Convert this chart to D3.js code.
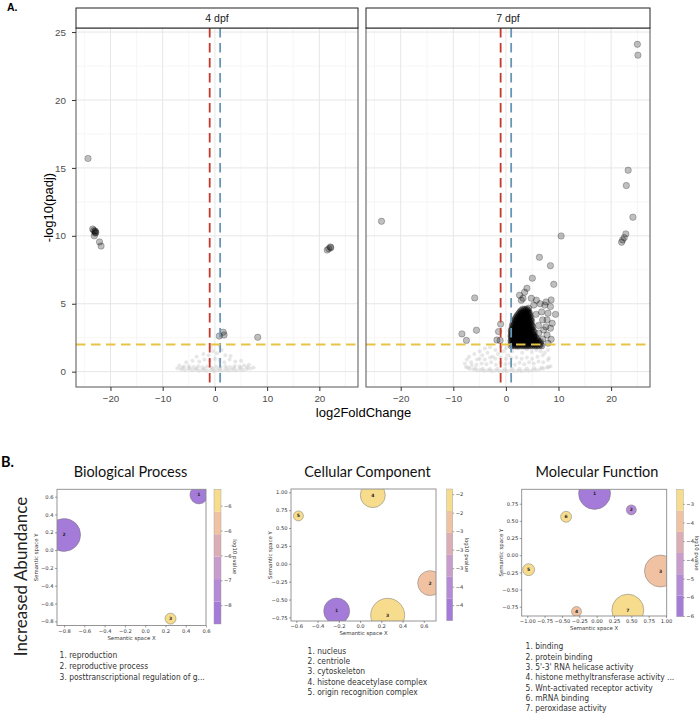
<!DOCTYPE html>
<html>
<head>
<meta charset="utf-8">
<script src="https://cdn.jsdelivr.net/npm/d3@7"></script>
<style>
  body { margin: 0; background: #fff; }
  svg { display: block; }
</style>
</head>
<body>
<svg id="fig" width="700" height="714"></svg>
<script>
// ---------------- data: A. volcano plots ----------------
const panels = ["4 dpf", "7 dpf"];
const xTicks = [-20, -10, 0, 10, 20];
const xMinor = [-25, -15, -5, 5, 15, 25];
const yTicks = [0, 5, 10, 15, 20, 25];
const yMinor = [2.5, 7.5, 12.5, 17.5, 22.5];
const lfcCut = [-1, 1];
const padjCut = 2;

// significant genes, 4 dpf  [log2FoldChange, -log10(padj)]
const sig4 = [
  [-24.3, 15.7],
  [-23.4, 10.5], [-23.2, 10.4], [-22.9, 10.35], [-22.8, 10.25], [-23.0, 10.3], [-22.9, 10.2],
  [-23.1, 10.0], [-22.1, 9.55], [-21.8, 9.25],
  [21.5, 8.95], [21.8, 9.05], [22.1, 9.18], [22.2, 9.12],
  [0.85, 2.62], [1.6, 2.9], [1.75, 2.7], [8.2, 2.53]
];

// non-significant genes, 4 dpf
const cloud4 = [
  [-7.2, 0.25], [-6.5, 0.18], [-5.8, 0.12], [-5.1, 0.2], [-4.4, 0.1], [-3.7, 0.15], [-3.0, 0.08],
  [-2.3, 0.12], [-1.6, 0.06], [-0.9, 0.1], [-0.2, 0.05], [0.5, 0.1], [1.2, 0.07], [1.9, 0.12],
  [2.6, 0.09], [3.3, 0.14], [4.0, 0.1], [4.7, 0.16], [5.4, 0.12], [6.1, 0.2], [6.8, 0.24], [7.4, 0.3],
  [-6.8, 0.45], [-5.9, 0.38], [-5.0, 0.42], [-4.1, 0.35], [-3.2, 0.4], [-2.4, 0.33], [-1.5, 0.38],
  [-0.6, 0.3], [0.3, 0.36], [1.1, 0.32], [2.0, 0.4], [2.9, 0.35], [3.8, 0.42], [4.7, 0.38],
  [5.6, 0.45], [6.5, 0.5],
  [-6.2, 0.28], [-4.8, 0.26], [-3.5, 0.24], [-2.0, 0.22], [-0.4, 0.2], [0.9, 0.22], [2.3, 0.25],
  [3.6, 0.27], [5.0, 0.3], [6.2, 0.34],
  [-5.5, 0.7], [-4.3, 0.8], [-3.0, 0.75], [-2.0, 0.9], [-1.0, 0.8], [0.0, 0.95], [0.9, 0.85],
  [1.8, 0.7], [2.8, 0.9], [3.9, 0.75], [5.0, 0.8],
  [-3.5, 1.1], [-2.2, 1.3], [-1.2, 1.2], [-0.4, 1.5], [0.4, 1.35], [1.3, 1.6], [2.0, 1.2],
  [3.0, 1.15], [-0.8, 1.8], [0.9, 1.9]
];

// significant genes, 7 dpf (scattered ones)
const sig7 = [
  [25.0, 24.1], [25.1, 23.3], [23.25, 14.83], [22.9, 13.7], [-23.65, 11.07], [24.15, 11.37],
  [22.8, 10.14], [22.5, 9.87], [22.2, 9.7], [22.0, 9.53], [10.5, 9.99],
  [6.37, 8.42], [8.47, 7.8], [5.03, 6.88], [9.1, 6.43], [4.0, 6.14], [3.56, 5.85], [2.6, 5.63],
  [3.25, 5.4], [4.84, 5.4], [5.8, 5.26], [2.93, 5.26], [7.65, 5.13], [8.6, 5.28], [8.47, 4.79],
  [9.43, 4.22], [5.73, 4.22], [6.99, 3.81], [7.83, 3.81], [8.8, 3.56], [8.47, 3.2], [7.19, 3.07],
  [6.23, 2.83], [7.83, 2.7], [8.6, 2.38], [6.56, 2.21], [5.28, 2.58], [4.32, 4.67],
  [6.8, 4.4], [7.4, 4.9], [8.0, 4.3], [6.2, 3.4], [7.0, 2.4], [8.0, 2.1], [7.6, 3.3], [6.5, 5.0], [5.3, 4.9],
  [-5.93, 5.43], [-8.36, 2.78], [-7.5, 2.3], [-5.6, 3.05],
  [-1.0, 3.5], [-1.4, 2.95], [-1.7, 2.33], [-1.1, 2.3]
];

// the dense group of up-regulated genes at 7 dpf, read row by row: [-log10(padj), log2FoldChange values]
const blob7Rows = [
  [1.9, [1.0, 1.4, 1.8, 2.2, 2.6, 3.0, 3.4, 3.8, 4.2, 4.6, 5.0, 5.5, 5.9, 6.3, 6.8]],
  [2.0, [1.2, 1.6, 2.0, 2.4, 2.8, 3.2, 3.6, 4.0, 4.4, 4.8, 5.3, 5.7, 6.1, 6.6]],
  [2.1, [1.1, 1.5, 1.9, 2.3, 2.7, 3.1, 3.5, 3.9, 4.3, 4.8, 5.2, 5.6, 6.0, 6.5]],
  [2.2, [1.0, 1.3, 1.7, 2.1, 2.5, 2.9, 3.3, 3.7, 4.1, 4.5, 5.0, 5.4, 5.8, 6.2]],
  [2.3, [1.0, 1.4, 1.8, 2.2, 2.6, 3.0, 3.4, 3.9, 4.3, 4.7, 5.1, 5.6, 6.1]],
  [2.4, [1.2, 1.6, 2.0, 2.4, 2.8, 3.2, 3.7, 4.1, 4.5, 4.9, 5.4, 5.8]],
  [2.5, [1.1, 1.5, 1.9, 2.3, 2.8, 3.2, 3.6, 4.0, 4.4, 4.9, 5.3, 5.8]],
  [2.6, [1.0, 1.3, 1.7, 2.1, 2.5, 3.0, 3.4, 3.8, 4.2, 4.7, 5.1, 5.5]],
  [2.7, [1.0, 1.4, 1.9, 2.3, 2.7, 3.1, 3.5, 4.0, 4.4, 4.8, 5.3]],
  [2.8, [1.2, 1.6, 2.1, 2.5, 2.9, 3.3, 3.8, 4.2, 4.6, 5.1]],
  [2.9, [1.1, 1.5, 1.9, 2.4, 2.8, 3.2, 3.7, 4.1, 4.5, 5.0, 5.4]],
  [3.0, [1.0, 1.3, 1.7, 2.2, 2.6, 3.0, 3.5, 3.9, 4.3, 4.8, 5.2]],
  [3.1, [1.1, 1.6, 2.0, 2.4, 2.9, 3.3, 3.7, 4.2, 4.6, 5.0]],
  [3.2, [1.3, 1.8, 2.2, 2.7, 3.1, 3.5, 4.0, 4.4, 4.8]],
  [3.3, [1.2, 1.6, 2.1, 2.5, 2.9, 3.4, 3.8, 4.2, 4.7, 5.1]],
  [3.4, [1.4, 1.9, 2.3, 2.7, 3.2, 3.6, 4.0, 4.5, 4.9]],
  [3.5, [1.3, 1.7, 2.2, 2.6, 3.0, 3.5, 3.9, 4.3, 4.8]],
  [3.6, [1.6, 2.0, 2.5, 2.9, 3.3, 3.8, 4.2, 4.6]],
  [3.7, [1.5, 1.9, 2.3, 2.8, 3.2, 3.6, 4.1, 4.5, 4.9]],
  [3.8, [1.7, 2.1, 2.5, 3.0, 3.4, 3.8, 4.3, 4.7]],
  [3.9, [1.8, 2.2, 2.6, 3.1, 3.5, 3.9, 4.3, 4.8]],
  [4.0, [2.0, 2.4, 2.8, 3.2, 3.7, 4.1, 4.5]],
  [4.1, [2.1, 2.5, 3.0, 3.4, 3.8, 4.2, 4.6]],
  [4.2, [2.3, 2.7, 3.1, 3.6, 4.0, 4.4]],
  [4.3, [2.5, 2.9, 3.3, 3.8, 4.2, 4.5]],
  [4.4, [2.7, 3.1, 3.6, 4.0, 4.3]],
  [4.5, [2.9, 3.4, 3.8, 4.2]],
  [4.6, [3.2, 3.6, 4.0]]
];

// non-significant genes, 7 dpf
const cloud7 = [
  [-7.6, 0.35], [-6.9, 0.22], [-6.2, 0.15], [-5.5, 0.1], [-4.8, 0.12], [-4.1, 0.06], [-3.4, 0.1],
  [-2.7, 0.05], [-2.0, 0.08], [-1.3, 0.04], [-0.6, 0.07], [0.1, 0.05], [0.8, 0.08], [1.5, 0.04],
  [2.2, 0.07], [2.9, 0.05], [3.6, 0.09], [4.3, 0.06], [5.0, 0.1], [5.7, 0.12], [6.4, 0.16],
  [7.1, 0.22], [7.8, 0.3], [8.5, 0.4],
  [-7.2, 0.3], [-5.8, 0.25], [-4.4, 0.22], [-3.0, 0.2], [-1.6, 0.22], [-0.2, 0.2], [1.2, 0.22],
  [2.6, 0.2], [4.0, 0.24], [5.4, 0.26], [6.8, 0.3], [8.1, 0.35],
  [-7.8, 0.6], [-7.4, 0.9], [-7.0, 1.1], [-6.6, 0.7], [-6.0, 1.3], [-5.5, 0.9], [-5.0, 1.5],
  [-4.5, 1.2], [-4.0, 1.7], [-3.5, 1.4], [-3.0, 1.8], [-2.5, 1.1], [-2.0, 1.6], [-1.5, 1.3],
  [-1.0, 1.85], [-0.5, 1.5], [0.0, 1.75], [0.5, 1.2],
  [-6.5, 0.45], [-5.6, 0.5], [-4.6, 0.6], [-3.7, 0.55], [-2.8, 0.7], [-1.9, 0.5], [-1.0, 0.65],
  [-0.1, 0.55], [0.8, 0.6], [1.7, 0.5], [2.6, 0.65], [3.5, 0.55], [4.4, 0.7], [5.3, 0.6],
  [6.2, 0.75], [7.1, 0.7], [8.0, 0.85],
  [-5.0, 0.95], [-4.0, 0.9], [-3.0, 1.05], [-2.0, 0.95], [-1.0, 1.05], [0.0, 0.95], [1.0, 1.0],
  [2.0, 1.05], [3.0, 0.95], [4.0, 1.05], [5.0, 0.95], [6.0, 1.1], [7.0, 1.2], [8.2, 1.0],
  [1.2, 1.5], [2.2, 1.7], [3.1, 1.4], [4.0, 1.65], [4.9, 1.45], [5.8, 1.6], [6.6, 1.5], [7.4, 1.4],
  [8.0, 1.6], [1.7, 1.85], [3.6, 1.8], [5.3, 1.85], [6.9, 1.8]
];

// ---------------- data: B. GO term bubble charts ----------------
const bpTerms = ["reproduction", "reproductive process", "posttranscriptional regulation of g..."];
const bpX = [0.53, -0.80, 0.25];
const bpY = [0.62, 0.17, -0.77];
const bpSize = [81, 272, 30];
const bpLogP = [-7.85, -7.8, -5.3];
const bpXTicks = [-0.8, -0.6, -0.4, -0.2, 0.0, 0.2, 0.4, 0.6];
const bpYTicks = [-0.8, -0.6, -0.4, -0.2, 0.0, 0.2, 0.4, 0.6];
const bpCbTicks = [-5.5, -6.0, -6.5, -7.0, -7.5];

const ccTerms = ["nucleus", "centriole", "cytoskeleton", "histone deacetylase complex", "origin recognition complex"];
const ccX = [-0.22, 0.66, 0.26, 0.12, -0.58];
const ccY = [-0.66, -0.27, -0.72, 0.96, 0.67];
const ccSize = [169, 156, 289, 156, 25];
const ccLogP = [-3.9, -2.6, -2.25, -2.2, -2.3];
const ccXTicks = [-0.6, -0.4, -0.2, 0.0, 0.2, 0.4, 0.6];
const ccYTicks = [-0.75, -0.5, -0.25, 0.0, 0.25, 0.5, 0.75, 1.0];
const ccCbTicks = [-2.25, -2.5, -2.75, -3.0, -3.25, -3.5, -3.75];

const mfTerms = ["binding", "protein binding", "5'-3' RNA helicase activity", "histone methyltransferase activity ...",
  "Wnt-activated receptor activity", "mRNA binding", "peroxidase activity"];
const mfX = [-0.03, 0.50, 0.92, -0.29, -0.98, -0.44, 0.45];
const mfY = [0.90, 0.66, -0.23, -0.82, -0.21, 0.56, -0.80];
const mfSize = [256, 25, 256, 25, 36, 30, 256];
const mfLogP = [-6.0, -5.2, -3.5, -3.4, -2.7, -2.75, -2.8];
const mfXTicks = [-1.0, -0.75, -0.5, -0.25, 0.0, 0.25, 0.5, 0.75, 1.0];
const mfYTicks = [-0.75, -0.5, -0.25, 0.0, 0.25, 0.5, 0.75];
const mfCbTicks = [-3.0, -3.5, -4.0, -4.5, -5.0, -5.5, -6.0];

const bandColors = ["#a47bd8", "#b58ad6", "#c99cce", "#ddadb6", "#f0c2a2", "#f6dc8c"];

// ---------------- drawing ----------------
const svg = d3.select("#fig");
const helv = "'Liberation Sans', Arial, sans-serif";
const small = "'DejaVu Sans', sans-serif";
const narrow = "'Liberation Sans Narrow', 'DejaVu Sans Condensed', sans-serif";

// colour bar labels are printed like python's "%.0f" (round half to even)
const halfEven = v => {
  const r = Math.round(v);
  return (Math.abs(v % 1) === 0.5 && r % 2 !== 0) ? r - 1 : r;
};
const cbFormat = v => d3.format("d")(halfEven(v));

svg.append("text").attr("x", 7).attr("y", 10.7).text("A.")
  .attr("font-family", helv).attr("font-weight", "bold").attr("font-size", 10.5);

const blob7 = blob7Rows.flatMap(([y, xs]) => xs.map(x => [x, y]));
const pTop = 28, pBot = 387;
const volY = d3.scaleLinear().domain([-1.13, 25.3]).range([pBot, pTop]);

const facets = [
  { name: panels[0], x0: 76, x1: 358, sig: sig4, ns: cloud4 },
  { name: panels[1], x0: 366, x1: 650, sig: sig7.concat(blob7), ns: cloud7 }
];

facets.forEach((f, i) => {
  const x = d3.scaleLinear().domain([-26.6, 27.4]).range([f.x0, f.x1]);
  const g = svg.append("g");
  const clipId = "clip" + i;
  g.append("clipPath").attr("id", clipId).append("rect")
    .attr("x", f.x0).attr("y", pTop).attr("width", f.x1 - f.x0).attr("height", pBot - pTop);

  // grid
  g.selectAll(null).data(xMinor).enter().append("line")
    .attr("x1", d => x(d)).attr("x2", d => x(d)).attr("y1", pTop).attr("y2", pBot)
    .attr("stroke", "#f0f0f0").attr("stroke-width", 0.6);
  g.selectAll(null).data(yMinor).enter().append("line")
    .attr("y1", d => volY(d)).attr("y2", d => volY(d)).attr("x1", f.x0).attr("x2", f.x1)
    .attr("stroke", "#f0f0f0").attr("stroke-width", 0.6);
  g.selectAll(null).data(xTicks).enter().append("line")
    .attr("x1", d => x(d)).attr("x2", d => x(d)).attr("y1", pTop).attr("y2", pBot)
    .attr("stroke", "#e6e6e6").attr("stroke-width", 1);
  g.selectAll(null).data(yTicks).enter().append("line")
    .attr("y1", d => volY(d)).attr("y2", d => volY(d)).attr("x1", f.x0).attr("x2", f.x1)
    .attr("stroke", "#e6e6e6").attr("stroke-width", 1);

  const pts = g.append("g").attr("clip-path", `url(#${clipId})`);
  pts.selectAll(null).data(f.ns).enter().append("circle")
    .attr("cx", d => x(d[0])).attr("cy", d => volY(d[1])).attr("r", 2.0)
    .attr("fill", "#b4b4b4").attr("fill-opacity", 0.32);
  pts.selectAll(null).data(f.sig).enter().append("circle")
    .attr("cx", d => x(d[0])).attr("cy", d => volY(d[1])).attr("r", 3.2)
    .attr("fill", "#000").attr("fill-opacity", 0.25)
    .attr("stroke", "#000").attr("stroke-opacity", 0.4).attr("stroke-width", 0.6);

  // cut-off lines
  g.append("line").attr("x1", x(lfcCut[0])).attr("x2", x(lfcCut[0])).attr("y1", pTop).attr("y2", pBot)
    .attr("stroke", "#c4392a").attr("stroke-width", 1.8).attr("stroke-dasharray", "9.5,5.5");
  g.append("line").attr("x1", x(lfcCut[1])).attr("x2", x(lfcCut[1])).attr("y1", pTop).attr("y2", pBot)
    .attr("stroke", "#6897b5").attr("stroke-width", 1.8).attr("stroke-dasharray", "9.5,5.5");
  g.append("line").attr("y1", volY(padjCut)).attr("y2", volY(padjCut)).attr("x1", f.x0).attr("x2", f.x1)
    .attr("stroke", "#e6c445").attr("stroke-width", 1.8).attr("stroke-dasharray", "9.5,5.5");

  // border + strip
  g.append("rect").attr("x", f.x0).attr("y", pTop).attr("width", f.x1 - f.x0).attr("height", pBot - pTop)
    .attr("fill", "none").attr("stroke", "#555").attr("stroke-width", 1);
  g.append("rect").attr("x", f.x0).attr("y", 8).attr("width", f.x1 - f.x0).attr("height", pTop - 8)
    .attr("fill", "#fff").attr("stroke", "#222").attr("stroke-width", 1);
  g.append("text").attr("x", (f.x0 + f.x1) / 2).attr("y", 21.5).attr("text-anchor", "middle")
    .attr("font-family", helv).attr("font-size", 10.5).attr("fill", "#1a1a1a").text(f.name);

  const ax = g.append("g").attr("transform", `translate(0,${pBot})`)
    .call(d3.axisBottom(x).tickValues(xTicks).tickSize(4).tickPadding(4));
  ax.select(".domain").remove();
  ax.selectAll("line").attr("stroke", "#333");
  ax.selectAll("text").attr("font-family", helv).attr("font-size", 9.8).attr("fill", "#4d4d4d");

  if (i === 0) {
    const ay = g.append("g").attr("transform", `translate(${f.x0},0)`)
      .call(d3.axisLeft(volY).tickValues(yTicks).tickSize(4).tickPadding(6));
    ay.select(".domain").remove();
    ay.selectAll("line").attr("stroke", "#333");
    ay.selectAll("text").attr("font-family", helv).attr("font-size", 9.8).attr("fill", "#4d4d4d");
  }
});

svg.append("text").attr("x", 363.5).attr("y", 417).attr("text-anchor", "middle")
  .attr("font-family", helv).attr("font-size", 13).text("log2FoldChange");
svg.append("text").attr("transform", "translate(53,207.5) rotate(-90)").attr("text-anchor", "middle")
  .attr("font-family", helv).attr("font-size", 13).text("-log10(padj)");

// ---------------- B. bubble charts ----------------
svg.append("text").attr("x", 1).attr("y", 467.3).text("B.")
  .attr("font-family", "Lato, sans-serif").attr("font-weight", "bold").attr("font-size", 14.5);
svg.append("text").attr("transform", "translate(27,576.5) rotate(-90)").attr("text-anchor", "middle")
  .attr("font-family", "Lato, sans-serif").attr("font-size", 17).attr("fill", "#222").text("Increased Abundance");

const rScale = d3.scaleSqrt().domain([0, 300]).range([0, 17.3]);

const bubbleSets = [
  { title: "Biological Process", terms: bpTerms, xs: bpX, ys: bpY, sizes: bpSize, logp: bpLogP,
    xt: bpXTicks, yt: bpYTicks, cbt: bpCbTicks, fx: ".1f", fy: ".1f",
    box: [57, 489.3, 206, 625.5], xDom: [-0.87, 0.6], yDom: [-0.847, 0.683],
    cb: [214, 221, 489.3, 624], cbDom: [-7.88, -5.17], listX: 59.6, listY: 658.3, gap: 11, titleX: 130.5 },
  { title: "Cellular Component", terms: ccTerms, xs: ccX, ys: ccY, sizes: ccSize, logp: ccLogP,
    xt: ccXTicks, yt: ccYTicks, cbt: ccCbTicks, fx: ".1f", fy: ".2f",
    box: [291, 489, 436, 621], xDom: [-0.65, 0.715], yDom: [-0.80, 1.046],
    cb: [446.7, 452.7, 489, 620.7], cbDom: [-3.96, -2.18], listX: 307.6, listY: 653.7, gap: 10.3, titleX: 367.5 },
  { title: "Molecular Function", terms: mfTerms, xs: mfX, ys: mfY, sizes: mfSize, logp: mfLogP,
    xt: mfXTicks, yt: mfYTicks, cbt: mfCbTicks, fx: ".2f", fy: ".2f",
    box: [521.7, 489.3, 666.7, 616], xDom: [-1.08, 1.01], yDom: [-0.885, 0.96],
    cb: [676.7, 683.3, 489.3, 616.7], cbDom: [-6.02, -2.61], listX: 525.6, listY: 649.3, gap: 10.3, titleX: 597 }
];

bubbleSets.forEach((b, i) => {
  const [bx0, by0, bx1, by1] = b.box;
  const x = d3.scaleLinear().domain(b.xDom).range([bx0, bx1]);
  const y = d3.scaleLinear().domain(b.yDom).range([by1, by0]);
  const color = d3.scaleQuantize().domain(b.cbDom).range(bandColors);
  const g = svg.append("g");

  g.append("text").attr("x", b.titleX).attr("y", 476.7).attr("text-anchor", "middle")
    .attr("font-family", "Lato, sans-serif").attr("font-size", 14.5).attr("fill", "#111").text(b.title);

  const clipId = "bclip" + i;
  g.append("clipPath").attr("id", clipId).append("rect")
    .attr("x", bx0).attr("y", by0).attr("width", bx1 - bx0).attr("height", by1 - by0);

  const rows = b.terms.map((t, k) => ({ k: k + 1, x: b.xs[k], y: b.ys[k], s: b.sizes[k], p: b.logp[k] }));
  const cg = g.append("g").attr("clip-path", `url(#${clipId})`);
  cg.selectAll(null).data(rows).enter().append("circle")
    .attr("cx", d => x(d.x)).attr("cy", d => y(d.y)).attr("r", d => rScale(d.s))
    .attr("fill", d => color(d.p)).attr("stroke", "#777").attr("stroke-width", 0.5);
  cg.selectAll(null).data(rows).enter().append("text")
    .attr("x", d => x(d.x)).attr("y", d => y(d.y) + 1.5).attr("text-anchor", "middle")
    .attr("font-family", small).attr("font-size", 4.5).attr("font-weight", "bold").attr("fill", "#222")
    .text(d => d.k);

  g.append("rect").attr("x", bx0).attr("y", by0).attr("width", bx1 - bx0).attr("height", by1 - by0)
    .attr("fill", "none").attr("stroke", "#8a8a8a").attr("stroke-width", 0.9);

  const ax = g.append("g").attr("transform", `translate(0,${by1})`)
    .call(d3.axisBottom(x).tickValues(b.xt).tickFormat(d3.format(b.fx)).tickSize(2).tickPadding(1.5));
  const ay = g.append("g").attr("transform", `translate(${bx0},0)`)
    .call(d3.axisLeft(y).tickValues(b.yt).tickFormat(d3.format(b.fy)).tickSize(2).tickPadding(1.5));
  [ax, ay].forEach(a => {
    a.select(".domain").remove();
    a.selectAll("line").attr("stroke", "#444").attr("stroke-width", 0.5);
    a.selectAll("text").attr("font-family", small).attr("font-size", 5.2).attr("fill", "#333");
  });
  g.append("text").attr("x", (bx0 + bx1) / 2).attr("y", by1 + 14).attr("text-anchor", "middle")
    .attr("font-family", small).attr("font-size", 5.4).attr("fill", "#333").text("Semantic space X");
  g.append("text").attr("transform", `translate(${bx0 - 19},${(by0 + by1) / 2}) rotate(-90)`)
    .attr("text-anchor", "middle")
    .attr("font-family", small).attr("font-size", 5.4).attr("fill", "#333").text("Semantic space Y");

  // colour bar
  const [cx0, cx1, cy0, cy1] = b.cb;
  const cbY = d3.scaleLinear().domain(b.cbDom).range([cy1, cy0]);
  const step = (b.cbDom[1] - b.cbDom[0]) / bandColors.length;
  g.selectAll(null).data(bandColors).enter().append("rect")
    .attr("x", cx0).attr("width", cx1 - cx0)
    .attr("y", (d, k) => cbY(b.cbDom[0] + (k + 1) * step))
    .attr("height", (d, k) => cbY(b.cbDom[0] + k * step) - cbY(b.cbDom[0] + (k + 1) * step))
    .attr("fill", d => d);
  g.append("rect").attr("x", cx0).attr("y", cy0).attr("width", cx1 - cx0).attr("height", cy1 - cy0)
    .attr("fill", "none").attr("stroke", "#999").attr("stroke-width", 0.4);
  const ac = g.append("g").attr("transform", `translate(${cx1},0)`)
    .call(d3.axisRight(cbY).tickValues(b.cbt).tickFormat(cbFormat).tickSize(1.5).tickPadding(1.5));
  ac.select(".domain").remove();
  ac.selectAll("line").attr("stroke", "#444").attr("stroke-width", 0.5);
  ac.selectAll("text").attr("font-family", small).attr("font-size", 5.2).attr("fill", "#333");
  g.append("text").attr("transform", `translate(${cx1 + 12},${(cy0 + cy1) / 2}) rotate(90)`)
    .attr("text-anchor", "middle")
    .attr("font-family", small).attr("font-size", 5.4).attr("fill", "#333").text("log10 pvalue");

  // term list
  g.selectAll(null).data(b.terms).enter().append("text")
    .attr("x", b.listX).attr("y", (d, k) => b.listY + k * b.gap)
    .attr("font-family", narrow).attr("font-size", 8.4).attr("fill", "#333")
    .text((d, k) => `${k + 1}. ${d}`);
});
</script>
</body>
</html>
